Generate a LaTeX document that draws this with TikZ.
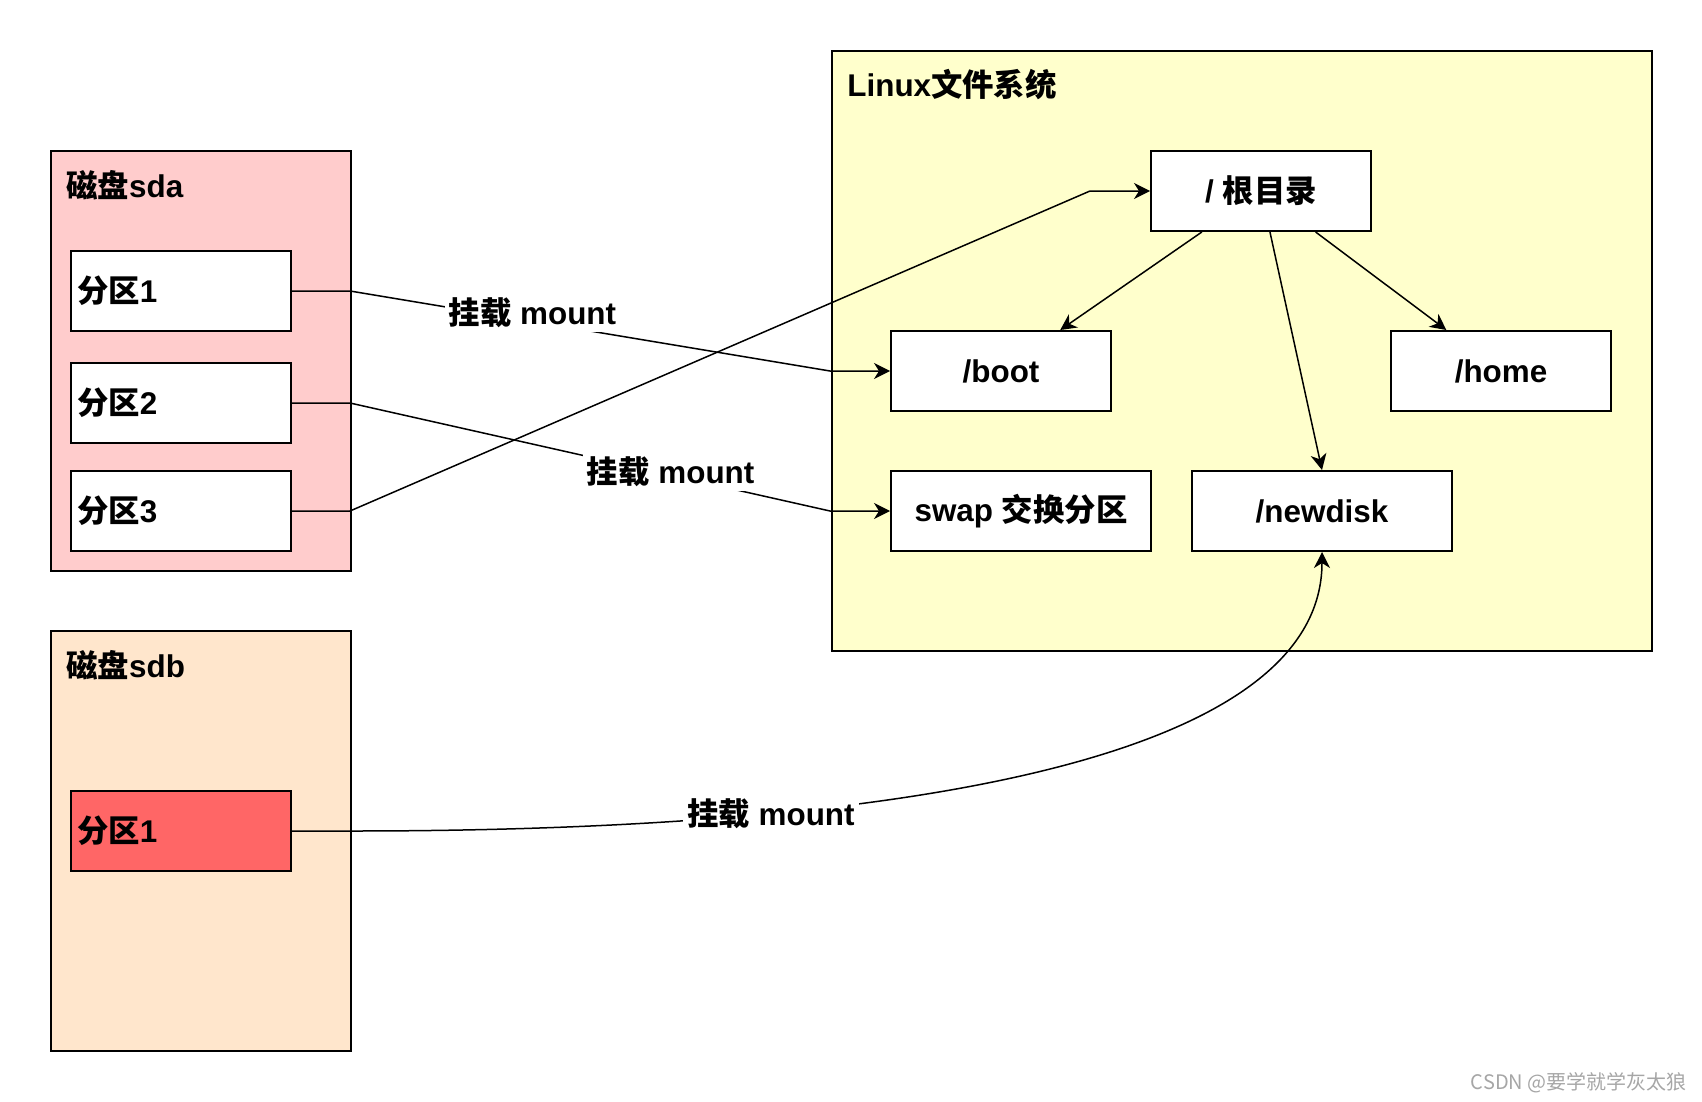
\documentclass[tikz,border=0pt]{standalone}
\usepackage{fontspec}
\setmainfont{Liberation Sans}
\newfontfamily\cjkfont{Noto Sans CJK SC}
\newcommand{\zh}[1]{{\cjkfont #1}}
\usetikzlibrary{arrows.meta,positioning}
\definecolor{sdafill}{HTML}{FFCCCC}
\definecolor{sdbfill}{HTML}{FFE6CC}
\definecolor{fsfill}{HTML}{FFFFCC}
\definecolor{partred}{HTML}{FF6666}

\begin{document}
\begin{tikzpicture}[
    x=0.5pt, y=-0.5pt,
    every node/.style={font=\bfseries\fontsize{15.7}{18}\selectfont},
    disk/.style={rectangle,draw,line width=1pt,minimum width=150pt,minimum height=210pt},
    part/.style={rectangle,draw,line width=1pt,fill=white,minimum height=40pt,text width=104pt,inner xsep=3pt,align=left},
    dir/.style={rectangle,draw,line width=1pt,fill=white,minimum width=110pt,minimum height=40pt},
    title/.style={anchor=west,inner sep=0pt},
    mount/.style={fill=white,inner sep=2pt},
    link/.style={line width=0.75pt,-{Stealth[length=8pt,width=8pt,inset=2.5pt]}}
]
    \useasboundingbox (0,0) rectangle (1702,1102);

    % disks and the file system
    \node[disk,fill=sdafill] (sda) at (201,361) {};
    \node[disk,fill=sdbfill] (sdb) at (201,841) {};
    \node[disk,fill=fsfill,minimum width=410pt,minimum height=300pt] (fs) at (1242,351) {};
    \node[title] (sdaname) at (66,185) {\zh{磁盘}sda};
    \node[title] (sdbname) at (66,665) {\zh{磁盘}sdb};
    \node[title] (fsname)  at (847,85) {Linux\zh{文件系统}};

    % partitions
    \node[part] (sda1) at (181,291) {\zh{分区}1};
    \node[part] (sda2) at (181,403) {\zh{分区}2};
    \node[part] (sda3) at (181,511) {\zh{分区}3};
    \node[part,fill=partred] (sdb1) at (181,831) {\zh{分区}1};

    % directories
    \node[dir] (root)    at (1261,191) {/ \zh{根目录}};
    \node[dir] (boot)    at (1001,371) {/boot};
    \node[dir] (home)    at (1501,371) {/home};
    \node[dir,minimum width=130pt] (swap)    at (1021,511) {swap \zh{交换分区}};
    \node[dir,minimum width=130pt] (newdisk) at (1322,511) {/newdisk};

    \draw[link] (root) -- (boot);
    \draw[link] (root) -- (home);
    \draw[link] (root) -- (newdisk.north);

    % mount lines
    \draw[link] (sda3.east) -- ++(58,0) -- ([xshift=-30pt]root.west) -- (root.west);
    \draw[link] (sda1.east) -- ++(58,0)
        -- node[mount,pos=0.38,yshift=4.4pt] (mnt1) {\zh{挂载} mount}
        ([xshift=-30pt]boot.west) -- (boot.west);
    \draw[link] (sda2.east) -- ++(58,0)
        -- node[mount,pos=0.668,yshift=1.5pt] (mnt2) {\zh{挂载} mount}
        ([xshift=-30pt]swap.west) -- (swap.west);
    \draw[link] (sdb1.east) -- ++(60,0)
        .. controls +(600,0) and +(0,195) .. node[mount,pos=0.26] (mnt3) {\zh{挂载} mount}
        (newdisk.south);

    \node[anchor=east,inner sep=0pt,text=gray!70,font=\cjkfont\fontsize{10}{12}\selectfont] (mark) at (1687,1083) {CSDN @要学就学灰太狼};
\end{tikzpicture}
\end{document}
